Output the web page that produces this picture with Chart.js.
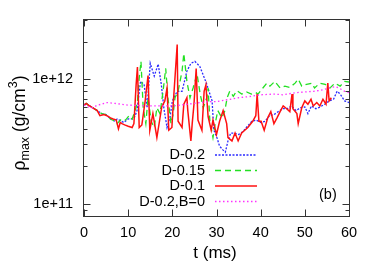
<!DOCTYPE html>
<html>
<head>
<meta charset="utf-8">
<script src="https://cdn.jsdelivr.net/npm/chart.js@4/dist/chart.umd.min.js"></script>
<style>
  body { margin: 0; background: #fff; }
</style>
</head>
<body>
<canvas id="chartRho" width="376" height="263"></canvas>
<script>
// dados - rho em unidades de 1e12 g/cm3, tempo em ms
var tempoD02 = [0,0.5,1,2,3,4,5,6,7,7.5,8,9,10,11,11.5,12,12.8,13.6,14.3,15,15.9,16.8,17.5,18.1,18.8,19.5,20,21.1,22.2,23.3,24.2,25.1,26.2,26.9,27.8,29,29.4,30.1,30.7,31.5,32,32.6,33.2,34,35,36,37,38,39,40,41,42,43,44,45,46,47,48,49,50,50.7,51.5,52.5,53.5,54.5,55.5,56.5,57.3,58,59,60];
var rhoD02 = [0.62,0.64,0.62,0.59,0.56,0.53,0.52,0.48,0.46,0.48,0.47,0.45,0.48,0.48,0.50,0.56,0.96,0.91,0.59,1.34,1.06,1.32,0.91,0.58,0.41,0.50,0.67,0.80,0.80,1.16,1.34,1.39,1.27,1.10,0.91,0.67,0.39,0.34,0.29,0.27,0.26,0.32,0.37,0.37,0.36,0.38,0.42,0.46,0.47,0.45,0.46,0.51,0.52,0.55,0.58,0.58,0.61,0.56,0.59,0.60,0.53,0.61,0.58,0.60,0.63,0.67,0.69,0.80,0.76,0.67,0.65];

var tempoD015 = [0,0.5,1,2,3,4,5,6,7,7.5,8.5,9.4,10.2,10.9,11.6,12.1,12.5,12.9,13.4,14,14.5,15.2,15.9,16.5,17.2,17.9,18.5,19,19.7,20.2,20.6,21.3,22.2,22.6,23.3,24,24.7,25.6,26.3,27,27.8,28.1,28.5,29.2,29.7,30.3,31.2,31.9,32.4,33,33.8,34.6,35.7,36.8,37.9,38.9,39.4,40.5,41.4,42.1,43.2,44.4,45.5,46.6,47.8,48.5,49.3,50.4,51.6,52.2,53.4,54.6,55.7,56.8,58,59,60];
var rhoD015 = [0.62,0.64,0.62,0.59,0.56,0.53,0.52,0.48,0.46,0.44,0.48,0.47,0.51,0.48,0.56,0.67,1.02,1.39,0.59,0.44,0.71,0.46,0.41,0.59,0.53,0.80,1.22,0.71,0.44,0.53,0.71,0.80,1.16,1.61,0.96,0.71,0.85,1.10,0.76,0.59,0.71,0.85,0.46,0.34,0.44,0.56,0.49,0.56,0.71,0.80,0.73,0.81,0.76,0.79,0.76,0.78,0.76,0.85,0.93,0.88,0.96,0.85,0.88,0.86,0.93,1.00,0.88,0.91,0.93,0.85,0.93,0.91,0.85,0.93,0.88,0.96,0.95];

var tempoD01 = [0,0.5,1,2,3,3.6,4.5,5.2,6,6.6,7.3,7.8,8.2,8.6,9.2,10,10.9,11.3,11.8,12.1,12.5,13.1,13.8,14.5,14.9,15.6,16.5,17.6,18.3,18.8,19.2,19.9,20.2,21.1,21.3,22.2,22.6,23.3,23.5,24.2,24.5,24.9,25.4,25.8,26.7,27.2,27.6,28.1,28.8,29.2,30,30.7,31.5,32.3,32.6,33.5,34.2,34.9,35.7,36.4,37.1,38.2,38.9,39.2,39.6,40.1,40.8,41.6,42.3,43,43.7,44.4,45.1,45.9,46.6,47.1,47.3,48.2,48.5,49.3,50,50.7,51.4,51.9,52.7,53.4,54.1,54.8,55.2,55.5,56];
var rhoD01 = [0.62,0.64,0.62,0.59,0.56,0.51,0.52,0.51,0.49,0.48,0.47,0.40,0.45,0.44,0.43,0.42,0.41,0.44,0.90,1.25,0.41,0.43,0.65,1.07,0.39,0.53,0.34,0.60,0.67,0.85,0.39,0.41,0.63,1.90,0.46,0.41,0.63,0.71,0.56,0.32,0.44,0.63,1.22,0.47,0.39,0.80,0.90,0.50,0.39,0.47,0.36,0.46,0.56,0.44,0.34,0.32,0.37,0.32,0.37,0.39,0.41,0.46,0.51,0.76,0.46,0.46,0.39,0.49,0.55,0.44,0.49,0.55,0.61,0.58,0.55,0.76,0.58,0.53,0.44,0.59,0.67,0.63,0.69,0.61,0.65,0.61,0.69,0.63,0.93,0.67,0.71];

var tempoB0 = [0,1,2,3,4,5,7,10,15,20,22,25,28,30,33,35,38,40,43,45,48,50,52,54,55,56,57,58,59,60];
var rhoB0 = [0.62,0.60,0.59,0.62,0.63,0.65,0.64,0.62,0.61,0.61,0.62,0.64,0.66,0.66,0.69,0.71,0.73,0.75,0.76,0.75,0.78,0.79,0.80,0.82,0.84,0.86,0.87,0.84,0.80,0.78];

var ticksX = [0, 10, 20, 30, 40, 50, 60];
var ticksY = [1e11, 1e12];

var fonte = '"Liberation Sans", Arial, sans-serif';
Chart.defaults.font.family = fonte;
Chart.defaults.color = '#000';

function montarPontos(tempos, valores) {
    var pontos = [];
    for (var i = 0; i < tempos.length; i++) {
        pontos.push({ x: tempos[i], y: valores[i] * 1e12 });
    }
    return pontos;
}

// moldura, ticks internos, legenda e titulos (estilo gnuplot)
var molduraPlugin = {
    id: 'moldura',
    afterDraw: function(chart) {
        var ctx = chart.ctx;
        var area = chart.chartArea;
        var sx = chart.scales.x;
        var sy = chart.scales.y;
        var l = Math.floor(area.left) - 0.5;
        var r = Math.floor(area.right) + 0.5;
        var t = Math.floor(area.top) + 0.5;
        var b = Math.floor(area.bottom) + 0.5;

        ctx.save();
        ctx.setLineDash([]);
        ctx.strokeStyle = '#333';
        ctx.lineWidth = 1;
        ctx.strokeRect(l, t, r - l, b - t);

        ctx.beginPath();
        ticksX.forEach(function(v) {
            var px = Math.round(sx.getPixelForValue(v)) + 0.5;
            ctx.moveTo(px, b); ctx.lineTo(px, b - 7);
            ctx.moveTo(px, t); ctx.lineTo(px, t + 7);
        });
        for (var e = 10; e <= 12; e++) {
            for (var m = 1; m <= 9; m++) {
                var v = m * Math.pow(10, e);
                if (v < sy.min || v > sy.max) continue;
                var py = Math.round(sy.getPixelForValue(v)) + 0.5;
                var len = (m === 1) ? 7 : 4;
                ctx.moveTo(l, py); ctx.lineTo(l + len, py);
                ctx.moveTo(r, py); ctx.lineTo(r - len, py);
            }
        }
        ctx.stroke();

        // legenda
        var yLeg = [155, 170.5, 186, 201.5];
        ctx.font = '14.5px ' + fonte;
        ctx.textAlign = 'right';
        ctx.textBaseline = 'middle';
        chart.data.datasets.forEach(function(ds, i) {
            ctx.fillStyle = '#000';
            ctx.fillText(ds.label, 205, yLeg[i]);
            ctx.beginPath();
            ctx.strokeStyle = ds.borderColor;
            ctx.lineWidth = ds.borderWidth;
            ctx.setLineDash(ds.borderDash || []);
            ctx.moveTo(215, yLeg[i]);
            ctx.lineTo(257, yLeg[i]);
            ctx.stroke();
        });
        ctx.setLineDash([]);
        ctx.textAlign = 'left';
        ctx.fillText('(b)', 319, 195);

        // titulo eixo x
        ctx.font = '17px ' + fonte;
        ctx.textAlign = 'center';
        ctx.textBaseline = 'alphabetic';
        ctx.fillText('t (ms)', 215, 258);

        // titulo eixo y: rho_max (g/cm^3)
        ctx.translate(25, 123);
        ctx.rotate(-Math.PI / 2);
        var partes = [
            { txt: '\u03c1', f: '17.5px ', dy: 0 },
            { txt: 'max', f: '12.5px ', dy: 4 },
            { txt: ' (g/cm', f: '17.5px ', dy: 0 },
            { txt: '3', f: '12.5px ', dy: -8 },
            { txt: ')', f: '17.5px ', dy: 0 }
        ];
        var total = 0;
        partes.forEach(function(p) {
            ctx.font = p.f + fonte;
            p.w = ctx.measureText(p.txt).width;
            total += p.w;
        });
        var xc = -total / 2;
        ctx.textAlign = 'left';
        partes.forEach(function(p) {
            ctx.font = p.f + fonte;
            ctx.fillText(p.txt, xc, p.dy);
            xc += p.w;
        });
        ctx.restore();
    }
};

var ctx = document.getElementById('chartRho').getContext('2d');
var myChart = new Chart(ctx, {
    type: 'line',
    data: {
        datasets: [{
            label: 'D-0.2',
            data: montarPontos(tempoD02, rhoD02),
            borderColor: '#2a2aff',
            borderWidth: 1.3,
            borderDash: [2, 1.5],
            order: 4
        }, {
            label: 'D-0.15',
            data: montarPontos(tempoD015, rhoD015),
            borderColor: '#22e022',
            borderWidth: 1.3,
            borderDash: [6, 4],
            order: 3
        }, {
            label: 'D-0.1',
            data: montarPontos(tempoD01, rhoD01),
            borderColor: '#ff1010',
            borderWidth: 1.5,
            order: 2
        }, {
            label: 'D-0.2,B=0',
            data: montarPontos(tempoB0, rhoB0),
            borderColor: '#ff30ff',
            borderWidth: 1.3,
            borderDash: [1.5, 2.5],
            order: 1
        }]
    },
    options: {
        responsive: false,
        animation: false,
        devicePixelRatio: 1,
        layout: { padding: { top: 18, right: 27, left: 0, bottom: 0 } },
        elements: {
            point: { radius: 0 },
            line: { tension: 0, fill: false }
        },
        plugins: {
            legend: { display: false },
            tooltip: { enabled: false }
        },
        scales: {
            x: {
                type: 'linear',
                min: 0,
                max: 60,
                grid: { display: false, drawTicks: false },
                border: { display: false },
                afterBuildTicks: function(s) {
                    s.ticks = ticksX.map(function(v) { return { value: v }; });
                },
                ticks: { font: { size: 14.5 }, padding: 8, maxRotation: 0 },
                afterFit: function(s) { s.height = 47; }
            },
            y: {
                type: 'logarithmic',
                min: 8e10,
                max: 3e12,
                grid: { display: false, drawTicks: false },
                border: { display: false },
                afterBuildTicks: function(s) {
                    s.ticks = ticksY.map(function(v) { return { value: v }; });
                },
                ticks: {
                    font: { size: 14.5 },
                    padding: 11,
                    callback: function(value) {
                        return '1e+' + Math.round(Math.log10(value));
                    }
                },
                afterFit: function(s) { s.width = 84; }
            }
        }
    },
    plugins: [molduraPlugin]
});
</script>
</body>
</html>
